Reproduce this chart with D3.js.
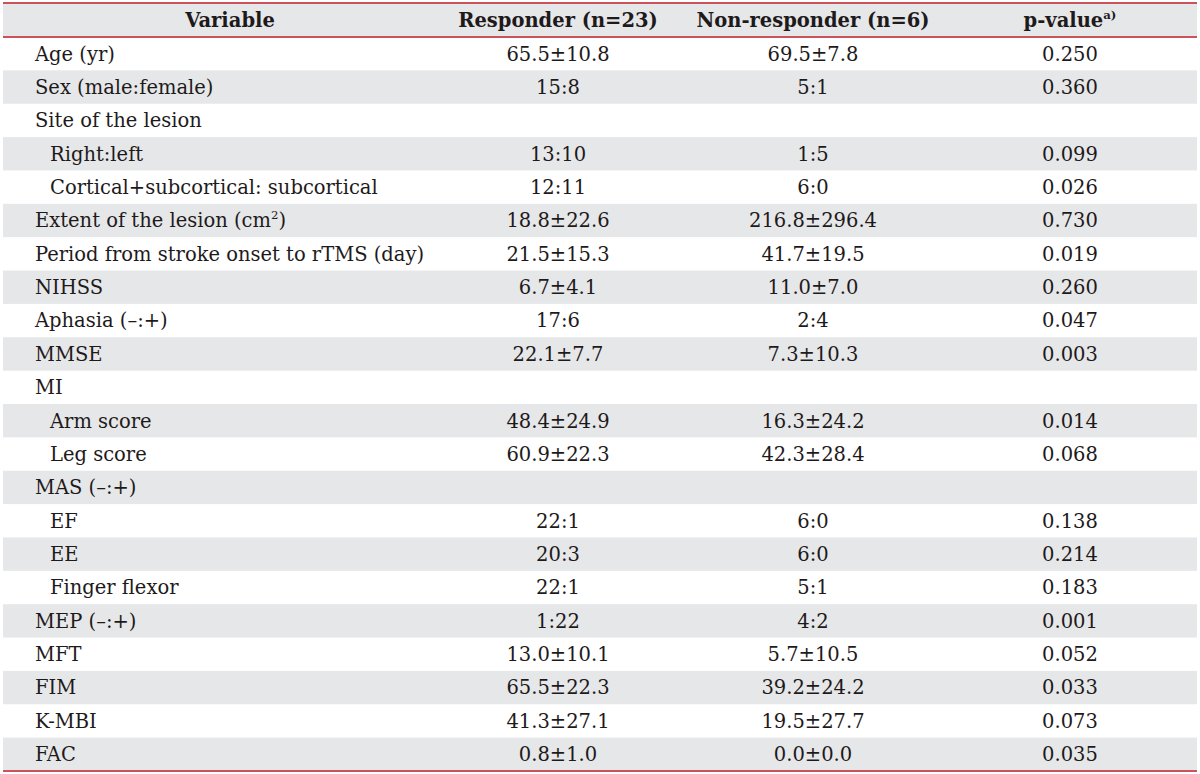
<!DOCTYPE html>
<html>
<head>
<meta charset="utf-8">
<script src="https://cdn.jsdelivr.net/npm/d3@7"></script>
<style>
  body { margin: 0; background: #fff; }
  text { font-family: "DejaVu Serif", serif; fill: #1e1a1b; }
</style>
</head>
<body>
<div id="table"></div>
<script>
// table contents
var headers = ["Variable", "Responder (n=23)", "Non-responder (n=6)", "p-value"];
var variables = ["Age (yr)", "Sex (male:female)", "Site of the lesion", "Right:left",
  "Cortical+subcortical: subcortical", "Extent of the lesion (cm", "Period from stroke onset to rTMS (day)",
  "NIHSS", "Aphasia (\u2013:+)", "MMSE", "MI", "Arm score", "Leg score", "MAS (\u2013:+)",
  "EF", "EE", "Finger flexor", "MEP (\u2013:+)", "MFT", "FIM", "K-MBI", "FAC"];
var indented = [0, 0, 0, 1, 1, 0, 0, 0, 0, 0, 0, 1, 1, 0, 1, 1, 1, 0, 0, 0, 0, 0];
var responder = ["65.5\u00b110.8", "15:8", "", "13:10", "12:11", "18.8\u00b122.6", "21.5\u00b115.3",
  "6.7\u00b14.1", "17:6", "22.1\u00b17.7", "", "48.4\u00b124.9", "60.9\u00b122.3", "",
  "22:1", "20:3", "22:1", "1:22", "13.0\u00b110.1", "65.5\u00b122.3", "41.3\u00b127.1", "0.8\u00b11.0"];
var nonResponder = ["69.5\u00b17.8", "5:1", "", "1:5", "6:0", "216.8\u00b1296.4", "41.7\u00b119.5",
  "11.0\u00b17.0", "2:4", "7.3\u00b110.3", "", "16.3\u00b124.2", "42.3\u00b128.4", "",
  "6:0", "6:0", "5:1", "4:2", "5.7\u00b110.5", "39.2\u00b124.2", "19.5\u00b127.7", "0.0\u00b10.0"];
var pValues = ["0.250", "0.360", "", "0.099", "0.026", "0.730", "0.019", "0.260", "0.047", "0.003",
  "", "0.014", "0.068", "", "0.138", "0.214", "0.183", "0.001", "0.052", "0.033", "0.073", "0.035"];

var svgWidth = 1200;
var svgHeight = 774;
var tableLeft = 3, tableRight = 1197;
var headTop = 3, headBottom = 37, tableBottom = 771;
var fontSize = 19.5;
var lineColor = "#c9545c";
var stripe = "#e6e7e8";

var svg = d3.select("#table")
  .append("svg")
  .attr("width", svgWidth)
  .attr("height", svgHeight);

// one band per data row
var rowScale = d3.scaleBand()
  .domain(d3.range(variables.length))
  .range([headBottom, tableBottom]);

// centers of the value columns
var colScale = d3.scaleOrdinal()
  .domain(headers)
  .range([230, 558, 813, 1070]);

// header background
svg.append("rect")
  .attr("x", tableLeft)
  .attr("y", headTop)
  .attr("width", tableRight - tableLeft)
  .attr("height", headBottom - headTop)
  .attr("fill", stripe);

// striped rows
svg.selectAll(".stripe")
  .data(d3.range(variables.length).filter(i => i % 2 === 1))
  .enter()
  .append("rect")
  .attr("class", "stripe")
  .attr("x", tableLeft)
  .attr("y", i => rowScale(i))
  .attr("width", tableRight - tableLeft)
  .attr("height", rowScale.bandwidth())
  .attr("fill", stripe);

// header text
var headText = svg.selectAll(".head")
  .data(headers)
  .enter()
  .append("text")
  .attr("class", "head")
  .attr("x", d => colScale(d))
  .attr("y", (headTop + headBottom) / 2)
  .attr("dy", "0.35em")
  .attr("text-anchor", "middle")
  .attr("font-size", fontSize)
  .attr("font-weight", "bold")
  .text(d => d);

headText.filter(d => d === "p-value")
  .append("tspan")
  .attr("font-size", fontSize * 0.6)
  .attr("dy", "-0.7em")
  .text("a)");

// variable names
var names = svg.selectAll(".name")
  .data(variables)
  .enter()
  .append("text")
  .attr("class", "name")
  .attr("x", (d, i) => indented[i] ? 50 : 35)
  .attr("y", (d, i) => rowScale(i) + rowScale.bandwidth() / 2)
  .attr("dy", "0.35em")
  .attr("font-size", fontSize)
  .text(d => d);

names.filter(d => d === "Extent of the lesion (cm")
  .each(function() {
    var t = d3.select(this);
    t.append("tspan").attr("font-size", fontSize * 0.6).attr("dy", "-0.75em").text("2");
    t.append("tspan").attr("dy", "0.45em").text(")");
  });

// value columns
var columns = [
  {key: headers[1], values: responder},
  {key: headers[2], values: nonResponder},
  {key: headers[3], values: pValues}
];

columns.forEach(function(col) {
  svg.selectAll(null)
    .data(col.values)
    .enter()
    .append("text")
    .attr("x", colScale(col.key))
    .attr("y", (d, i) => rowScale(i) + rowScale.bandwidth() / 2)
    .attr("dy", "0.35em")
    .attr("text-anchor", "middle")
    .attr("font-size", fontSize)
    .text(d => d);
});

// rules
[headTop, headBottom, tableBottom].forEach(function(y) {
  svg.append("line")
    .attr("x1", tableLeft)
    .attr("x2", tableRight)
    .attr("y1", y)
    .attr("y2", y)
    .attr("stroke", lineColor)
    .attr("stroke-width", 2);
});
</script>
</body>
</html>
